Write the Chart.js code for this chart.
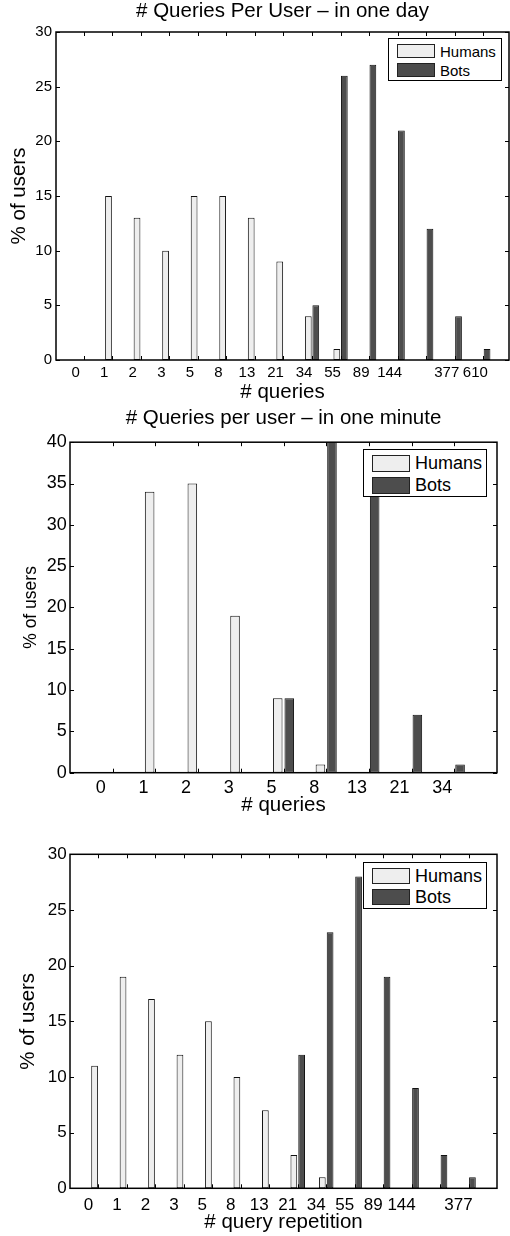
<!DOCTYPE html>
<html lang="en">
<head>
  <meta charset="UTF-8">
  <title># Queries Per User</title>
  <script src="https://cdn.jsdelivr.net/npm/chart.js"></script>
  <style>
    body { margin: 0; background: #fff; }
    #wrap { position: relative; width: 510px; height: 1236px; overflow: hidden; font-family: 'Liberation Sans', Arial, sans-serif; }
    #wrap canvas { position: absolute; left: 0; }
    .legend { position: absolute; box-sizing: border-box; border: 1.5px solid #000; background: #fff; color: #000; z-index: 5; }
    .legend .row { display: flex; align-items: center; white-space: nowrap; }
    .legend .sw { box-sizing: border-box; border: 1px solid #222; display: inline-block; margin-right: 5px; }
  </style>
</head>
<body>
  <div id="wrap">
    <canvas id="day" width="510" height="410" style="top:0"></canvas>
    <canvas id="minute" width="510" height="420" style="top:400px"></canvas>
    <canvas id="rep" width="510" height="416" style="top:820px"></canvas>
  </div>

  <script>
    // data
    const dayTicks = ['0', '1', '2', '3', '5', '8', '13', '21', '34', '55', '89', '144', '', '377', '610'];
    const dayHumans = [0, 15, 13, 10, 15, 15, 13, 9, 4, 1, 0, 0, 0, 0, 0];
    const dayBots = [0, 0, 0, 0, 0, 0, 0, 0, 5, 26, 27, 21, 12, 4, 1];

    const minuteTicks = ['0', '1', '2', '3', '5', '8', '13', '21', '34'];
    const minuteHumans = [0, 34, 35, 19, 9, 1, 0, 0, 0];
    const minuteBots = [0, 0, 0, 0, 9, 42, 37, 7, 1];

    const repTicks = ['0', '1', '2', '3', '5', '8', '13', '21', '34', '55', '89', '144', '', '377'];
    const repHumans = [11, 19, 17, 12, 15, 10, 7, 3, 1, 0, 0, 0, 0, 0];
    const repBots = [0, 0, 0, 0, 0, 0, 0, 12, 23, 28, 19, 9, 3, 1];

    const HUMAN = '#eeeeee';
    const BOT = '#4d4d4d';

    Chart.defaults.font.family = "'Liberation Sans', Arial, sans-serif";
    Chart.defaults.color = '#000';

    // matlab style box with inward ticks on all four sides
    const boxPlugin = {
      id: 'matlabBox',
      afterDatasetsDraw(chart) {
        const { ctx, chartArea: a, scales: { x, y } } = chart;
        ctx.save();
        ctx.strokeStyle = '#000';
        ctx.lineWidth = 1;
        ctx.beginPath();
        x.ticks.forEach(t => {
          const px = Math.round(x.getPixelForValue(t.value)) + 0.5;
          ctx.moveTo(px, a.bottom); ctx.lineTo(px, a.bottom - 4);
          ctx.moveTo(px, a.top); ctx.lineTo(px, a.top + 4);
        });
        y.ticks.forEach(t => {
          const py = Math.round(y.getPixelForValue(t.value)) + 0.5;
          ctx.moveTo(a.left, py); ctx.lineTo(a.left + 4, py);
          ctx.moveTo(a.right, py); ctx.lineTo(a.right - 4, py);
        });
        ctx.stroke();
        ctx.lineWidth = 1.5;
        ctx.strokeRect(a.left, a.top, a.right - a.left, a.bottom - a.top);
        ctx.restore();
      }
    };

    function makeChart(id, o) {
      const pts = arr => arr.map((v, i) => ({ x: i, y: v }));
      return new Chart(document.getElementById(id), {
        type: 'bar',
        data: {
          datasets: [
            { label: 'Humans', data: pts(o.humans), backgroundColor: HUMAN, borderColor: '#111', borderWidth: 1, borderSkipped: false },
            { label: 'Bots', data: pts(o.bots), backgroundColor: BOT, borderColor: '#111', borderWidth: 1, borderSkipped: false }
          ]
        },
        options: {
          responsive: false,
          animation: false,
          layout: { padding: { top: o.padTop, right: o.padRight, left: 0, bottom: 0 } },
          datasets: { bar: { categoryPercentage: o.cat, barPercentage: o.bar, clip: 0 } },
          plugins: {
            legend: { display: false },
            tooltip: { enabled: false },
            title: {
              display: !!o.title,
              text: o.title,
              fullSize: false, // centre over the axes like matlab does
              color: '#000',
              font: { size: 20.5, weight: 'normal', lineHeight: 1 },
              padding: o.titlePad
            }
          },
          scales: {
            x: {
              type: 'linear',
              offset: false,
              min: o.xMin,
              max: o.xMax,
              grid: { display: false, drawTicks: false, offset: false },
              border: { display: false },
              afterBuildTicks: s => { s.ticks = o.ticks.map((t, i) => ({ value: i })); },
              afterFit: s => { s.height = o.xHeight; },
              ticks: {
                autoSkip: false,
                maxRotation: 0,
                padding: o.xTickPad,
                labelOffset: o.labelOffset,
                font: { size: o.tickSize },
                callback: v => o.ticks[v]
              },
              title: {
                display: true,
                text: o.xTitle,
                font: { size: 20.5, lineHeight: 1 },
                padding: { top: 0, bottom: o.xTitlePad }
              }
            },
            y: {
              min: 0,
              max: o.yMax,
              grid: { display: false, drawTicks: false },
              border: { display: false },
              afterFit: s => { s.width = o.yWidth; },
              ticks: { stepSize: 5, padding: o.yTickPad, font: { size: o.tickSize } },
              title: {
                display: true,
                text: '% of users',
                font: { size: o.yTitleSize, lineHeight: 1 },
                padding: { top: o.yTitlePad, bottom: 0 }
              }
            }
          }
        },
        plugins: [boxPlugin]
      });
    }

    function addLegend(chart, b) {
      const el = document.createElement('div');
      el.className = 'legend';
      Object.assign(el.style, {
        left: b.left + 'px', top: b.top + 'px', width: b.width + 'px', height: b.height + 'px',
        fontSize: b.font + 'px', paddingTop: b.padTop + 'px', paddingLeft: b.padLeft + 'px'
      });
      chart.data.datasets.forEach(ds => {
        const row = document.createElement('div');
        row.className = 'row';
        row.style.height = b.rowH + 'px';
        const sw = document.createElement('span');
        sw.className = 'sw';
        Object.assign(sw.style, { width: b.sw + 'px', height: b.sh + 'px', background: ds.backgroundColor });
        row.appendChild(sw);
        row.appendChild(document.createTextNode(ds.label));
        el.appendChild(row);
      });
      document.getElementById('wrap').appendChild(el);
    }

    const dayChart = makeChart('day', {
      ticks: dayTicks, humans: dayHumans, bots: dayBots,
      title: '# Queries Per User \u2013 in one day', titlePad: { top: 1, bottom: 10.5 },
      xTitle: '# queries', xMin: -0.97, xMax: 14.9, yMax: 30,
      padTop: 0, padRight: 1, xHeight: 50, yWidth: 56,
      cat: 0.525, bar: 0.9, tickSize: 15, xTickPad: 4, yTickPad: 4, labelOffset: -8,
      xTitlePad: 7, yTitleSize: 20.5, yTitlePad: 9.5
    });
    addLegend(dayChart, { left: 388, top: 38, width: 114, height: 43, font: 15, padTop: 2.5, padLeft: 8, rowH: 19, sw: 38, sh: 14 });

    const minuteChart = makeChart('minute', {
      ticks: minuteTicks, humans: minuteHumans, bots: minuteBots,
      title: '# Queries per user \u2013 in one minute', titlePad: { top: 8, bottom: 13.7 },
      xTitle: '# queries', xMin: -1, xMax: 9, yMax: 40,
      padTop: 0, padRight: 13, xHeight: 47.3, yWidth: 70,
      cat: 0.54, bar: 0.83, tickSize: 18, xTickPad: 4.5, yTickPad: 3.3, labelOffset: -12,
      xTitlePad: 4.2, yTitleSize: 17.5, yTitlePad: 22.5
    });
    addLegend(minuteChart, { left: 363, top: 449, width: 124, height: 48, font: 18, padTop: 2, padLeft: 8, rowH: 22.5, sw: 38, sh: 17 });

    const repChart = makeChart('rep', {
      ticks: repTicks, humans: repHumans, bots: repBots,
      title: '', titlePad: 0,
      xTitle: '# query repetition', xMin: -1, xMax: 14, yMax: 30,
      padTop: 34.3, padRight: 13, xHeight: 47.7, yWidth: 70,
      cat: 0.548, bar: 0.86, tickSize: 17, xTickPad: 6.5, yTickPad: 3.3, labelOffset: -10,
      xTitlePad: 3.6, yTitleSize: 20.5, yTitlePad: 18.5
    });
    addLegend(repChart, { left: 363, top: 862, width: 124, height: 47, font: 18, padTop: 2.5, padLeft: 8, rowH: 21, sw: 38, sh: 16 });
  </script>
</body>
</html>
